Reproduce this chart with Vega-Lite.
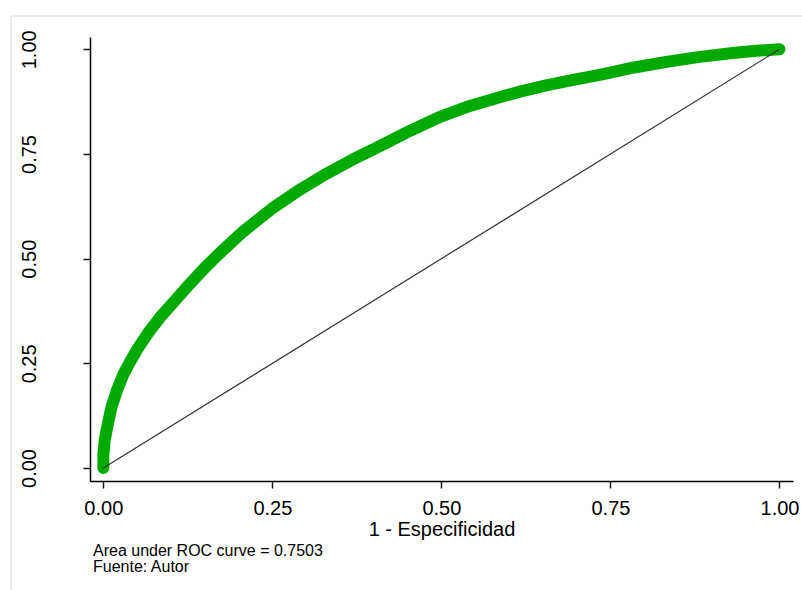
{
  "$schema": "https://vega.github.io/schema/vega-lite/v6.json",
  "width": 703,
  "height": 444,
  "autosize": {"type": "none"},
  "padding": {"left": 90, "top": 37, "right": 9, "bottom": 109},
  "background": "#ffffff",
  "config": {
    "font": "Liberation Sans",
    "view": {"stroke": null},
    "axis": {
      "labelFont": "Liberation Sans",
      "titleFont": "Liberation Sans",
      "labelFontSize": 20,
      "titleFontSize": 20,
      "titleFontWeight": "normal",
      "labelColor": "#000000",
      "titleColor": "#000000",
      "domainColor": "#000000",
      "domainWidth": 1.5,
      "tickColor": "#1a1a1a",
      "tickWidth": 1.5,
      "tickSize": 7,
      "gridColor": "#e8e8e8",
      "gridWidth": 1.3,
      "labelFlush": false,
      "labelOverlap": false
    }
  },
  "title": {
    "text": ["Area under ROC curve = 0.7503", "Fuente: Autor"],
    "orient": "bottom",
    "anchor": "start",
    "frame": "group",
    "dx": 3,
    "offset": -52,
    "baseline": "top",
    "font": "Liberation Sans",
    "fontSize": 16,
    "fontWeight": "normal",
    "lineHeight": 16.2,
    "color": "#000000"
  },
  "datasets": {
    "roc": [
      {"fpr": 0.0, "sens": 0.0},
      {"fpr": 0.0, "sens": 0.03},
      {"fpr": 0.002, "sens": 0.066},
      {"fpr": 0.006, "sens": 0.1},
      {"fpr": 0.012, "sens": 0.145},
      {"fpr": 0.02, "sens": 0.185},
      {"fpr": 0.03, "sens": 0.225},
      {"fpr": 0.04, "sens": 0.255},
      {"fpr": 0.05, "sens": 0.283},
      {"fpr": 0.066, "sens": 0.322},
      {"fpr": 0.084, "sens": 0.36},
      {"fpr": 0.105, "sens": 0.398},
      {"fpr": 0.128, "sens": 0.44},
      {"fpr": 0.15, "sens": 0.478},
      {"fpr": 0.172, "sens": 0.513},
      {"fpr": 0.207, "sens": 0.565},
      {"fpr": 0.249, "sens": 0.619},
      {"fpr": 0.291, "sens": 0.665},
      {"fpr": 0.33, "sens": 0.703},
      {"fpr": 0.369, "sens": 0.737},
      {"fpr": 0.409, "sens": 0.769},
      {"fpr": 0.448, "sens": 0.801},
      {"fpr": 0.5, "sens": 0.84},
      {"fpr": 0.537, "sens": 0.862},
      {"fpr": 0.576, "sens": 0.881},
      {"fpr": 0.616, "sens": 0.899},
      {"fpr": 0.655, "sens": 0.914},
      {"fpr": 0.695, "sens": 0.927},
      {"fpr": 0.734, "sens": 0.939},
      {"fpr": 0.76, "sens": 0.948},
      {"fpr": 0.783, "sens": 0.956},
      {"fpr": 0.833, "sens": 0.97},
      {"fpr": 0.882, "sens": 0.982},
      {"fpr": 0.931, "sens": 0.991},
      {"fpr": 0.97, "sens": 0.997},
      {"fpr": 1.0, "sens": 1.0}
    ],
    "reference": [
      {"fpr": 0.0, "sens": 0.0},
      {"fpr": 1.0, "sens": 1.0}
    ]
  },
  "layer": [
    {
      "description": "light frame around the graph region",
      "data": {"values": [{}]},
      "mark": {"type": "rect", "fill": null, "stroke": "#ececec", "strokeWidth": 2, "clip": false},
      "encoding": {
        "x": {"datum": -0.1365, "type": "quantitative"},
        "x2": {"datum": 1.2},
        "y": {"datum": 1.0795, "type": "quantitative"},
        "y2": {"datum": -0.3}
      }
    },
    {
      "data": {"name": "roc"},
      "mark": {
        "type": "line",
        "color": "#00aa00",
        "strokeWidth": 12,
        "strokeCap": "round",
        "strokeJoin": "round",
        "clip": false
      },
      "encoding": {
        "x": {
          "field": "fpr",
          "type": "quantitative",
          "scale": {"domain": [-0.0197, 1.02], "nice": false, "zero": false},
          "axis": {
            "title": "1 - Especificidad",
            "values": [0, 0.25, 0.5, 0.75, 1],
            "format": ".2f",
            "labelPadding": 10,
            "titlePadding": 1
          }
        },
        "y": {
          "field": "sens",
          "type": "quantitative",
          "scale": {"domain": [-0.031, 1.0294], "nice": false, "zero": false},
          "axis": {
            "title": null,
            "values": [0, 0.25, 0.5, 0.75, 1],
            "format": ".2f",
            "labelAngle": -90,
            "labelAlign": "center",
            "labelBaseline": "alphabetic",
            "labelPadding": 48
          }
        },
        "order": {"field": "fpr"}
      }
    },
    {
      "data": {"name": "reference"},
      "mark": {"type": "line", "color": "#333333", "strokeWidth": 1.2},
      "encoding": {
        "x": {"field": "fpr", "type": "quantitative"},
        "y": {"field": "sens", "type": "quantitative"}
      }
    }
  ]
}
